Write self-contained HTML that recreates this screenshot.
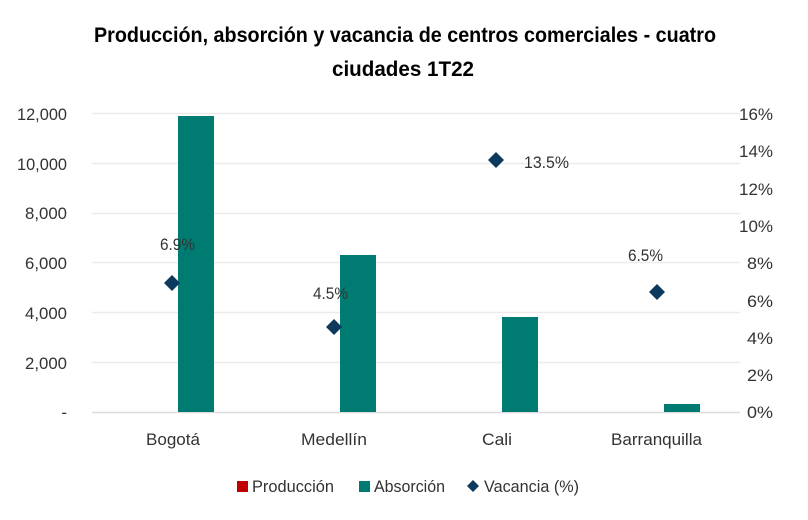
<!DOCTYPE html>
<html><head><meta charset="utf-8"><style>
html,body{margin:0;padding:0;background:#fff;}
svg{display:block;font-family:"Liberation Sans Narrow","Liberation Sans",sans-serif;}
</style></head><body>
<svg width="808" height="520" viewBox="0 0 808 520" xmlns="http://www.w3.org/2000/svg">
<rect width="808" height="520" fill="#fff"/>
<text x="94" y="42" font-size="21" font-weight="bold" fill="#000" textLength="622" lengthAdjust="spacingAndGlyphs">Producción, absorción y vacancia de centros comerciales - cuatro</text>
<text x="332" y="76" font-size="21" font-weight="bold" fill="#000" textLength="142" lengthAdjust="spacingAndGlyphs">ciudades 1T22</text>
<g stroke="#ebebeb" stroke-width="1.5">
<line x1="92" y1="113.5" x2="740" y2="113.5"/>
<line x1="92" y1="163.5" x2="740" y2="163.5"/>
<line x1="92" y1="213.5" x2="740" y2="213.5"/>
<line x1="92" y1="262.5" x2="740" y2="262.5"/>
<line x1="92" y1="312.5" x2="740" y2="312.5"/>
<line x1="92" y1="362.5" x2="740" y2="362.5"/>
</g>
<line x1="92" y1="412.5" x2="740" y2="412.5" stroke="#dcdcdc" stroke-width="1.5"/>
<g font-size="17" fill="#333" text-anchor="end">
<text x="67" y="120" textLength="50" lengthAdjust="spacingAndGlyphs">12,000</text>
<text x="67" y="170" textLength="50" lengthAdjust="spacingAndGlyphs">10,000</text>
<text x="67" y="219" textLength="42" lengthAdjust="spacingAndGlyphs">8,000</text>
<text x="67" y="269" textLength="42" lengthAdjust="spacingAndGlyphs">6,000</text>
<text x="67" y="319" textLength="42" lengthAdjust="spacingAndGlyphs">4,000</text>
<text x="67" y="369" textLength="42" lengthAdjust="spacingAndGlyphs">2,000</text>
<text x="67" y="418">-</text>
</g>
<g font-size="17" fill="#333">
<text x="739" y="120" textLength="34" lengthAdjust="spacingAndGlyphs">16%</text>
<text x="739" y="157" textLength="34" lengthAdjust="spacingAndGlyphs">14%</text>
<text x="739" y="195" textLength="34" lengthAdjust="spacingAndGlyphs">12%</text>
<text x="739" y="232" textLength="34" lengthAdjust="spacingAndGlyphs">10%</text>
<text x="747" y="269" textLength="26" lengthAdjust="spacingAndGlyphs">8%</text>
<text x="747" y="307" textLength="26" lengthAdjust="spacingAndGlyphs">6%</text>
<text x="747" y="344" textLength="26" lengthAdjust="spacingAndGlyphs">4%</text>
<text x="747" y="381" textLength="26" lengthAdjust="spacingAndGlyphs">2%</text>
<text x="747" y="418" textLength="26" lengthAdjust="spacingAndGlyphs">0%</text>
</g>
<g fill="#007b72">
<rect x="178" y="116" width="36" height="296"/>
<rect x="340" y="255" width="36" height="157"/>
<rect x="502" y="317" width="36" height="95"/>
<rect x="664" y="404" width="36" height="8"/>
</g>
<g fill="#0d3a5c">
<polygon points="172,275 180,283 172,291 164,283"/>
<polygon points="334,319 342,327 334,335 326,327"/>
<polygon points="496,152 504,160 496,168 488,160"/>
<polygon points="657,284 665,292 657,300 649,292"/>
</g>
<g font-size="17" fill="#333">
<text x="160" y="250" textLength="35" lengthAdjust="spacingAndGlyphs">6.9%</text>
<text x="313" y="299" textLength="35" lengthAdjust="spacingAndGlyphs">4.5%</text>
<text x="524" y="168" textLength="45" lengthAdjust="spacingAndGlyphs">13.5%</text>
<text x="628" y="261" textLength="35" lengthAdjust="spacingAndGlyphs">6.5%</text>
<text x="146" y="445" textLength="54" lengthAdjust="spacingAndGlyphs">Bogotá</text>
<text x="301" y="445" textLength="66" lengthAdjust="spacingAndGlyphs">Medellín</text>
<text x="482" y="445" textLength="30" lengthAdjust="spacingAndGlyphs">Cali</text>
<text x="611" y="445" textLength="91" lengthAdjust="spacingAndGlyphs">Barranquilla</text>
</g>
<rect x="237" y="481" width="11" height="11" fill="#c00000"/>
<text x="252" y="492" font-size="17" fill="#333" textLength="82" lengthAdjust="spacingAndGlyphs">Producción</text>
<rect x="359" y="481" width="11" height="11" fill="#007b72"/>
<text x="374" y="492" font-size="17" fill="#333" textLength="71" lengthAdjust="spacingAndGlyphs">Absorción</text>
<polygon points="473,480 479,486 473,492 467,486" fill="#0d3a5c"/>
<text x="484" y="492" font-size="17" fill="#333" textLength="95" lengthAdjust="spacingAndGlyphs">Vacancia (%)</text>
</svg>
</body></html>
